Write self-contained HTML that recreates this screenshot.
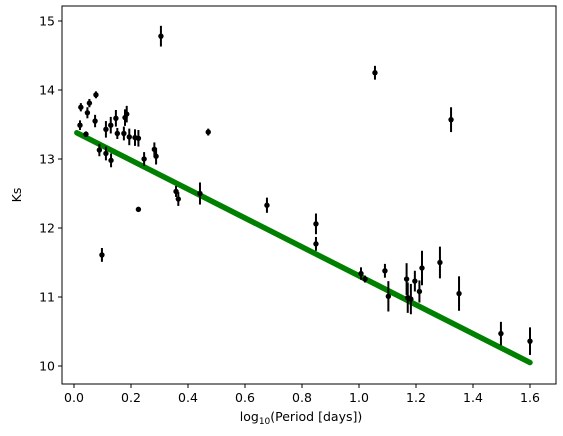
<!DOCTYPE html>
<html><head><meta charset="utf-8"><style>
html,body{margin:0;padding:0;background:#fff;}
svg{display:block;font-family:"DejaVu Sans","Liberation Sans",sans-serif;}
</style></head><body>
<svg id="chart" width="563" height="436" viewBox="0 0 563 436">
<rect x="0" y="0" width="563" height="436" fill="#fff"/>
<g id="plot"></g>
<rect x="62" y="6" width="494" height="378" fill="none" stroke="#000" stroke-width="1"/>
<g id="xticks"></g>
<g id="yticks"></g>
<text x="301" y="421" font-size="12.5" text-anchor="middle">log<tspan font-size="9" dy="3">10</tspan><tspan dy="-3">(Period [days])</tspan></text>
<text x="21" y="195" font-size="12.5" text-anchor="middle" transform="rotate(-90 21 195)">Ks</text>
</svg>
<script>
const logPeriod=[0.305,0.024,0.054,0.047,0.077,0.021,0.042,0.074,0.112,0.129,0.147,0.152,0.179,0.185,0.175,0.194,0.214,0.226,0.089,0.112,0.130,0.246,0.282,0.288,0.471,0.358,0.366,0.442,0.226,0.098,0.677,0.849,0.849,1.056,1.323,1.007,1.021,1.091,1.103,1.167,1.171,1.182,1.196,1.212,1.221,1.284,1.351,1.498,1.600];
const ks=[14.78,13.75,13.81,13.67,13.93,13.49,13.36,13.55,13.43,13.49,13.59,13.37,13.60,13.65,13.37,13.32,13.31,13.30,13.13,13.08,12.98,13.00,13.14,13.04,13.39,12.53,12.42,12.50,12.27,11.61,12.33,12.06,11.77,14.25,13.57,11.34,11.26,11.38,11.01,11.26,10.99,10.97,11.23,11.08,11.42,11.50,11.05,10.47,10.36];
const ksErr=[0.15,0.06,0.06,0.08,0.05,0.07,0.04,0.09,0.12,0.12,0.12,0.08,0.12,0.12,0.10,0.12,0.12,0.12,0.09,0.10,0.10,0.10,0.10,0.12,0.05,0.08,0.10,0.16,0.03,0.10,0.11,0.15,0.10,0.10,0.18,0.09,0.05,0.10,0.22,0.23,0.22,0.22,0.15,0.16,0.25,0.23,0.25,0.17,0.20];
const fitX=[0.01,1.6];
const fitY=[13.38,10.05];
const xTicks=[0.0,0.2,0.4,0.6,0.8,1.0,1.2,1.4,1.6];
const yTicks=[10,11,12,13,14,15];
const NS='http://www.w3.org/2000/svg';
function sx(v){return 74+v*285;}
function sy(v){return 21+(15-v)*69;}
const plot=document.getElementById('plot');
function mk(tag,attrs,parent){const e=document.createElementNS(NS,tag);for(const k in attrs)e.setAttribute(k,attrs[k]);parent.appendChild(e);return e;}
const fit=mk('line',{x1:sx(fitX[0]),y1:sy(fitY[0]),x2:sx(fitX[1]),y2:sy(fitY[1]),stroke:'#008000','stroke-width':5.5,'stroke-linecap':'round'},plot);


for(let i=0;i<logPeriod.length;i++){
  const g=mk('g',{},plot);
  
  
  mk('line',{x1:sx(logPeriod[i]),x2:sx(logPeriod[i]),y1:sy(ks[i]+ksErr[i]),y2:sy(ks[i]-ksErr[i]),stroke:'#000','stroke-width':2},g);
  mk('circle',{cx:sx(logPeriod[i]),cy:sy(ks[i]),r:2.7,fill:'#000'},g);
}
const xg=document.getElementById('xticks');
xTicks.forEach(t=>{
  const x=sx(t);
  const l=mk('line',{x1:x,x2:x,y1:384,y2:388,stroke:'#000'},xg);
  
  
  const tx=mk('text',{x:x,y:402,'font-size':12.5,'text-anchor':'middle'},xg);
  tx.textContent=t.toFixed(1);
  
  
});
const yg=document.getElementById('yticks');
yTicks.forEach(t=>{
  const y=sy(t);
  const l=mk('line',{x1:58,x2:62,y1:y,y2:y,stroke:'#000'},yg);
  
  
  const tx=mk('text',{x:55,y:y+4.5,'font-size':12.5,'text-anchor':'end'},yg);
  tx.textContent=String(t);
  
  
});
</script>
</body></html>
